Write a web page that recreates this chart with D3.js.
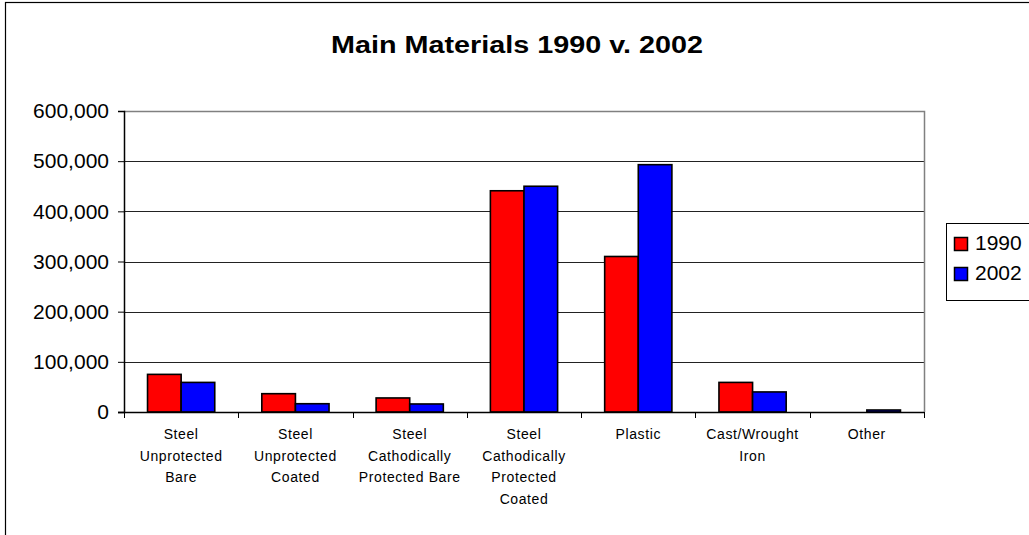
<!DOCTYPE html>
<html>
<head>
<meta charset="utf-8">
<script src="https://cdn.jsdelivr.net/npm/d3@7"></script>
<style>
  html, body { margin: 0; padding: 0; background: #fff; }
  svg { display: block; font-family: Arial, "Liberation Sans", sans-serif; }
</style>
</head>
<body>
<svg id="chart" width="1029" height="535"></svg>
<script>
// Pipeline miles by main material
const categories = [
  ["Steel", "Unprotected", "Bare"],
  ["Steel", "Unprotected", "Coated"],
  ["Steel", "Cathodically", "Protected Bare"],
  ["Steel", "Cathodically", "Protected", "Coated"],
  ["Plastic"],
  ["Cast/Wrought", "Iron"],
  ["Other"]
];
const seriesNames = ["1990", "2002"];
const values1990 = [75000, 36500, 28000, 441000, 310000, 59000, 0];
const values2002 = [59000, 16500, 16000, 450000, 493000, 40000, 4000];
const seriesColors = ["#FF0000", "#0000FF"];
const yTicks = [0, 100000, 200000, 300000, 400000, 500000, 600000];

const svg = d3.select("#chart");
const plot = { left: 124, right: 924, top: 111, bottom: 412 };

// outer chart frame (continues past the right and bottom edges)
svg.append("rect")
  .attr("x", 5.5).attr("y", 2.5).attr("width", 1100).attr("height", 600)
  .attr("fill", "#fff").attr("stroke", "#000").attr("stroke-width", 1.2);

svg.append("text")
  .attr("x", 517).attr("y", 53)
  .attr("text-anchor", "middle")
  .attr("font-size", 23).attr("font-weight", "bold")
  .attr("textLength", 372).attr("lengthAdjust", "spacingAndGlyphs")
  .text("Main Materials 1990 v. 2002");

const catIdx = categories.map((d, i) => i);
const x0 = d3.scaleBand().domain(catIdx).range([plot.left, plot.right]).padding(0);
const x1 = d3.scaleBand().domain(seriesNames).range([0, x0.bandwidth()])
  .paddingInner(0).paddingOuter(0.7);
const y = d3.scaleLinear().domain([0, 600000]).range([plot.bottom, plot.top]);

// gridlines
svg.append("g")
  .selectAll("line")
  .data(yTicks.filter(t => t > 0 && t < 600000))
  .join("line")
  .attr("x1", plot.left).attr("x2", plot.right)
  .attr("y1", d => Math.round(y(d)) + 0.5).attr("y2", d => Math.round(y(d)) + 0.5)
  .attr("stroke", "#222").attr("stroke-width", 1);

// plot area border (top and right)
svg.append("path")
  .attr("d", `M${plot.left},${plot.top + 0.5}H${plot.right + 0.5}V${plot.bottom}`)
  .attr("fill", "none").attr("stroke", "#808080").attr("stroke-width", 1.5);

// bars
const rows = categories.map((c, i) => ({ i, vals: [values1990[i], values2002[i]] }));
const groups = svg.append("g").selectAll("g")
  .data(rows).join("g")
  .attr("transform", d => `translate(${x0(d.i)},0)`);
groups.selectAll("rect")
  .data(d => d.vals.map((v, k) => ({ name: seriesNames[k], v, k })))
  .join("rect")
  .attr("x", d => x1(d.name))
  .attr("width", x1.bandwidth())
  .attr("y", d => y(d.v))
  .attr("height", d => y(0) - y(d.v))
  .attr("fill", d => seriesColors[d.k])
  .attr("stroke", "#000").attr("stroke-width", 1.6)
  .attr("display", d => d.v > 0 ? null : "none");

// y axis
const yAxis = d3.axisLeft(y).tickValues(yTicks).tickSize(6).tickPadding(9)
  .tickFormat(d3.format(","));
const gy = svg.append("g").attr("transform", `translate(${plot.left},0)`).call(yAxis);
gy.select(".domain").attr("stroke", "#000").attr("stroke-width", 1.5);
gy.selectAll(".tick line").attr("stroke", "#000");
gy.selectAll("text").attr("font-size", 21).attr("fill", "#000")
  .attr("font-family", "Arial, 'Liberation Sans', sans-serif");

// x axis baseline and category boundary ticks
const bounds = catIdx.map(i => x0(i)).concat([plot.right]);
svg.append("line")
  .attr("x1", plot.left - 6).attr("x2", plot.right)
  .attr("y1", plot.bottom + 0.5).attr("y2", plot.bottom + 0.5)
  .attr("stroke", "#000").attr("stroke-width", 1.5);
svg.append("g").selectAll("line")
  .data(bounds).join("line")
  .attr("x1", d => Math.round(d) + 0.5).attr("x2", d => Math.round(d) + 0.5)
  .attr("y1", plot.bottom).attr("y2", plot.bottom + 6)
  .attr("stroke", "#000").attr("stroke-width", 1);

// category labels, one tspan per line
const labels = svg.append("g").selectAll("text")
  .data(rows).join("text")
  .attr("text-anchor", "middle")
  .attr("font-size", 14)
  .attr("letter-spacing", 0.6)
  .attr("fill", "#000");
labels.each(function(d) {
  const cx = x0(d.i) + x0.bandwidth() / 2;
  d3.select(this).selectAll("tspan")
    .data(categories[d.i]).join("tspan")
    .attr("x", cx)
    .attr("y", (t, j) => 439 + j * 21.7)
    .text(t => t);
});

// legend
const legend = svg.append("g");
legend.append("rect")
  .attr("x", 946.5).attr("y", 223.5).attr("width", 120).attr("height", 77)
  .attr("fill", "#fff").attr("stroke", "#000").attr("stroke-width", 1);
seriesNames.forEach((name, k) => {
  const yy = 237 + k * 30;
  legend.append("rect")
    .attr("x", 954.5).attr("y", yy + 0.5).attr("width", 13).attr("height", 13)
    .attr("fill", seriesColors[k]).attr("stroke", "#000").attr("stroke-width", 1.5);
  legend.append("text")
    .attr("x", 975).attr("y", yy + 13)
    .attr("font-size", 21).attr("fill", "#000")
    .text(name);
});
</script>
</body>
</html>
